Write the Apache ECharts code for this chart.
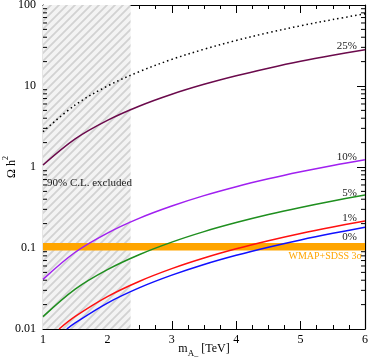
<!DOCTYPE html>
<html>
<head>
<meta charset="utf-8">
<script src="https://cdn.jsdelivr.net/npm/echarts@6/dist/echarts.min.js"></script>
<style>html,body{margin:0;padding:0;background:#fff}#c{width:371px;height:362px}</style>
</head>
<body>
<div id="c"></div>
<script>
// ---- data ----
const xs = [1, 1.5, 2, 2.5, 3, 3.5, 4, 4.5, 5, 5.5, 6];
const dottedVals = [2.73, 5.83, 9.98, 15.1, 21.3, 28.4, 36.5, 45.5, 55.4, 66.1, 77.8];
const r25Vals = [1.06, 2.23, 3.77, 5.67, 7.92, 10.5, 13.4, 16.6, 20.2, 24.0, 28.1];
const r10Vals = [0.041, 0.0886, 0.153, 0.234, 0.330, 0.443, 0.571, 0.714, 0.872, 1.046, 1.23];
const r5Vals = [0.0142, 0.0311, 0.0541, 0.0832, 0.1183, 0.1594, 0.206, 0.259, 0.317, 0.381, 0.451];
const xs1 = [1.25, 1.5, 2, 2.5, 3, 3.5, 4, 4.5, 5, 5.5, 6];
const r1Vals = [0.01, 0.01428, 0.0251, 0.0389, 0.0556, 0.0752, 0.0977, 0.123, 0.1512, 0.182, 0.216];
const xs0 = [1.37, 1.5, 2, 2.5, 3, 3.5, 4, 4.5, 5, 5.5, 6];
const r0Vals = [0.01, 0.01189, 0.0209, 0.0324, 0.0462, 0.0626, 0.0813, 0.1024, 0.1259, 0.1517, 0.180];
const bandRange = [0.093, 0.115];          // WMAP+SDSS 3 sigma
const excludedRange = [1, 2.36];           // 90% C.L. excluded (TeV)
const xTicks = [1, 2, 3, 4, 5, 6];
const yTicks = [0.01, 0.1, 1, 10, 100];
const curveLabels = ['25%', '10%', '5%', '1%', '0%'];

// ---- helpers ----
const FONT = 'Liberation Serif, Times New Roman, serif';
function pairs(x, y) { return x.map((v, i) => [v, y[i]]); }

const pat = document.createElement('canvas');
pat.width = 8; pat.height = 8;
const pc = pat.getContext('2d');
pc.fillStyle = '#f3f3f3'; pc.fillRect(0, 0, 8, 8);
pc.strokeStyle = '#d2d2d2'; pc.lineWidth = 1.8;
pc.beginPath();
pc.moveTo(-1, 9); pc.lineTo(9, -1);
pc.moveTo(-1, 1); pc.lineTo(1, -1);
pc.moveTo(7, 9); pc.lineTo(9, 7);
pc.stroke();

const yMinor = [];
[0.01, 0.1, 1, 10].forEach(d => { for (let k = 2; k <= 9; k++) yMinor.push([xTicks[0], +(d * k).toPrecision(3)]); });

function curve(name, xArr, yArr, color, dash, labelOffsetY) {
  const s = {
    name: name, type: 'line', data: pairs(xArr, yArr), showSymbol: false, symbol: 'none',
    smooth: 0.35, z: 5, clip: true,
    lineStyle: { color: color, width: 1.5, type: dash || 'solid' }
  };
  if (labelOffsetY !== undefined) {
    s.markPoint = {
      symbol: 'circle', symbolSize: 0, silent: true,
      data: [{ coord: [xArr[xArr.length - 1], yArr[yArr.length - 1]],
        label: { show: true, formatter: name, position: 'left', distance: 8, offset: [0, labelOffsetY],
          color: '#222', fontFamily: FONT, fontSize: 11 } }]
    };
  }
  return s;
}

const axisCommon = {
  axisLine: { show: true, onZero: false, lineStyle: { color: '#000', width: 1.2 } },
  splitLine: { show: false }
};

const option = {
  animation: false,
  backgroundColor: '#fff',
  grid: { left: 43, right: 6, top: 5, bottom: 33, containLabel: false, outerBoundsMode: 'none' },
  xAxis: [
    Object.assign({}, axisCommon, {
      type: 'value', min: xTicks[0], max: xTicks[xTicks.length - 1], interval: 1, position: 'bottom',
      axisTick: { inside: true, length: 8, lineStyle: { color: '#000' } },
      minorTick: { show: true, splitNumber: 4, length: 4, lineStyle: { color: '#000' } },
      axisLabel: { color: '#000', fontFamily: FONT, fontSize: 12, margin: 5 },
      name: '{m|m}{s|A}{ss|–}{m| [TeV]}', nameLocation: 'middle', nameGap: 14, nameMoveOverlap: false,
      nameTextStyle: { rich: {
        m: { fontFamily: FONT, fontSize: 12, color: '#000', lineHeight: 14, verticalAlign: 'top' },
        s: { fontFamily: FONT, fontSize: 9, color: '#000', lineHeight: 10, padding: [6, 0, 0, 0], verticalAlign: 'top' },
        ss: { fontFamily: FONT, fontSize: 8, color: '#000', lineHeight: 9, padding: [9, 0, 0, 0], verticalAlign: 'top' }
      } }
    }),
    Object.assign({}, axisCommon, {
      type: 'value', min: xTicks[0], max: xTicks[xTicks.length - 1], interval: 1, position: 'top',
      axisTick: { inside: true, length: 8, lineStyle: { color: '#000' } },
      minorTick: { show: true, splitNumber: 4, length: 4, lineStyle: { color: '#000' } },
      axisLabel: { show: false }
    })
  ],
  yAxis: [
    Object.assign({}, axisCommon, {
      type: 'log', logBase: 10, min: yTicks[0], max: yTicks[yTicks.length - 1], position: 'left',
      axisTick: { inside: true, length: 8, lineStyle: { color: '#000' } },
      axisLabel: { color: '#000', fontFamily: FONT, fontSize: 12, margin: 7,
        formatter: v => String(+v.toPrecision(3)) },
      name: '{a|Ω h}{s|2}', nameLocation: 'middle', nameGap: 27, nameRotate: 90, nameMoveOverlap: false,
      nameTextStyle: { rich: {
        a: { fontFamily: FONT, fontSize: 12, color: '#000', lineHeight: 14, padding: [4, 0, 0, 0], verticalAlign: 'top' },
        s: { fontFamily: FONT, fontSize: 8, color: '#000', lineHeight: 9, verticalAlign: 'top' }
      } }
    }),
    Object.assign({}, axisCommon, {
      type: 'log', logBase: 10, min: yTicks[0], max: yTicks[yTicks.length - 1], position: 'right',
      axisTick: { inside: true, length: 8, lineStyle: { color: '#000' } },
      axisLabel: { show: false }
    })
  ],
  series: [
    {
      name: 'excluded', type: 'line', data: [], z: 1, silent: true,
      markArea: {
        silent: true,
        itemStyle: { color: { image: pat, repeat: 'repeat' } },
        data: [[{ xAxis: excludedRange[0] }, { xAxis: excludedRange[1] }]]
      },
      markPoint: {
        symbol: 'circle', symbolSize: 0, silent: true,
        data: [{ coord: [excludedRange[0], 0.63],
          label: { show: true, formatter: '90% C.L. excluded', position: 'right', distance: 4,
            color: '#222', fontFamily: FONT, fontSize: 11 } }]
      }
    },
    {
      name: 'band', type: 'line', data: [], z: 2, silent: true,
      markArea: {
        silent: true,
        itemStyle: { color: '#ffa500' },
        data: [[{ yAxis: bandRange[0] }, { yAxis: bandRange[1] }]]
      },
      markPoint: {
        symbol: 'circle', symbolSize: 0, silent: true,
        data: [{ coord: [xTicks[xTicks.length - 1], bandRange[0]],
          label: { show: true, formatter: 'WMAP+SDSS 3σ', position: 'left', distance: 3, offset: [0, 6],
            color: '#ffa500', fontFamily: FONT, fontSize: 10 } }]
      }
    },
    curve('dotted', xs, dottedVals, '#000', [1.5, 3]),
    curve(curveLabels[0], xs, r25Vals, '#6b0a4c', null, -4),
    curve(curveLabels[1], xs, r10Vals, '#a020f0', null, -3),
    curve(curveLabels[2], xs, r5Vals, '#1f8f1f', null, -2),
    curve(curveLabels[3], xs1, r1Vals, '#ff1010', null, -3),
    curve(curveLabels[4], xs0, r0Vals, '#1010ff', null, 10),
    {
      name: 'yminor', type: 'custom', data: yMinor, z: 6, silent: true, clip: false,
      renderItem: function (params, api) {
        const v = api.value(1);
        const p = api.coord([xTicks[0], v]);
        const q = api.coord([xTicks[xTicks.length - 1], v]);
        return { type: 'group', children: [
          { type: 'line', shape: { x1: p[0], y1: p[1], x2: p[0] + 4, y2: p[1] }, style: { stroke: '#000', lineWidth: 1 } },
          { type: 'line', shape: { x1: q[0] - 4, y1: q[1], x2: q[0], y2: q[1] }, style: { stroke: '#000', lineWidth: 1 } }
        ] };
      }
    }
  ]
};

const chart = echarts.init(document.getElementById('c'), null, { renderer: 'canvas' });
chart.setOption(option);
</script>
</body>
</html>
